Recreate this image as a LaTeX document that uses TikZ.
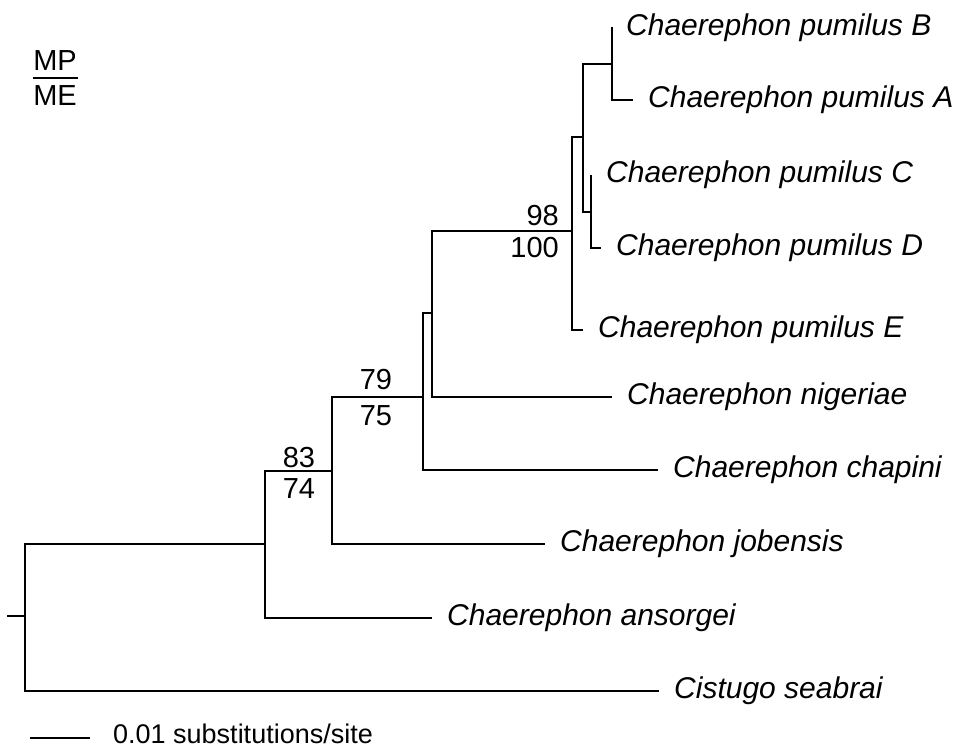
\documentclass[tikz,border=0pt]{standalone}
\usepackage{fontspec}
\setmainfont{Liberation Sans}
\begin{document}
\begin{tikzpicture}[x=1pt,y=-1pt,
  branch/.style={line width=1.6pt, line join=miter},
  taxon/.style={anchor=west, inner xsep=15pt, inner ysep=0pt, font=\fontsize{30}{36}\selectfont\itshape, text height=22pt, text depth=6.3pt},
  support/.style={inner sep=0pt, font=\fontsize{29}{34}\selectfont},
  scaletext/.style={anchor=base west, inner sep=0pt, font=\fontsize{27}{32}\selectfont}]
\useasboundingbox (0,0) rectangle (975,747);

% internal nodes
\coordinate (stub) at (7,616);
\coordinate (n0) at (25,616);
\coordinate (n1) at (265,544);
\coordinate (n2) at (332,471);
\coordinate (n3) at (423,397);
\coordinate (n4) at (432,313);
\coordinate (n5) at (572,231);
\coordinate (n6) at (583,137);
\coordinate (n7) at (612,64);
\coordinate (n8) at (591,212);

% taxa
\node[taxon] (B) at (611,28) {Chaerephon pumilus B};
\node[taxon] (A) at (633,100) {Chaerephon pumilus A};
\node[taxon] (C) at (591,175) {Chaerephon pumilus C};
\node[taxon] (D) at (601,248) {Chaerephon pumilus D};
\node[taxon] (E) at (583,330) {Chaerephon pumilus E};
\node[taxon] (nig) at (612,397) {Chaerephon nigeriae};
\node[taxon] (chap) at (658,470) {Chaerephon chapini};
\node[taxon] (job) at (545,544) {Chaerephon jobensis};
\node[taxon] (ans) at (432,618) {Chaerephon ansorgei};
\node[taxon] (cis) at (659,691) {Cistugo seabrai};

% branches
\draw[branch] (stub) -- (n0);
\draw[branch] (n0) |- (n1);
\draw[branch] (n0) |- (cis.west);
\draw[branch] (n1) |- (n2);
\draw[branch] (n1) |- (ans.west);
\draw[branch] (n2) |- (n3);
\draw[branch] (n2) |- (job.west);
\draw[branch] (n3) |- (n4);
\draw[branch] (n3) |- (chap.west);
\draw[branch] (n4) |- (n5);
\draw[branch] (n4) |- (nig.west);
\draw[branch] (n5) |- (n6);
\draw[branch] (n5) |- (E.west);
\draw[branch] (n6) |- (n7);
\draw[branch] (n6) |- (n8);
\draw[branch] (n7) |- (B.west);
\draw[branch] (n7) |- (A.west);
\draw[branch] (n8) |- (C.west);
\draw[branch] (n8) |- (D.west);

% support values
\node[support, anchor=base east] (s98) at (559,225) {98};
\node[support, anchor=base east] (s100) at (559,257) {100};
\node[support, anchor=base] (s79) at (376,389) {79};
\node[support, anchor=base] (s75) at (376,425) {75};
\node[support, anchor=base] (s83) at (299,467) {83};
\node[support, anchor=base] (s74) at (299,498) {74};

% legend
\node[support, anchor=base] (mp) at (55,70) {MP};
\node[support, anchor=base] (me) at (55,105) {ME};
\coordinate (lg1) at (33,78);
\coordinate (lg2) at (78,78);
\draw[branch] (lg1) -- (lg2);

% scale bar
\coordinate (sb1) at (30,738);
\coordinate (sb2) at (90,738);
\draw[branch] (sb1) -- (sb2);
\node[scaletext] (sbt) at (113,743) {0.01 substitutions/site};
\end{tikzpicture}
\end{document}
